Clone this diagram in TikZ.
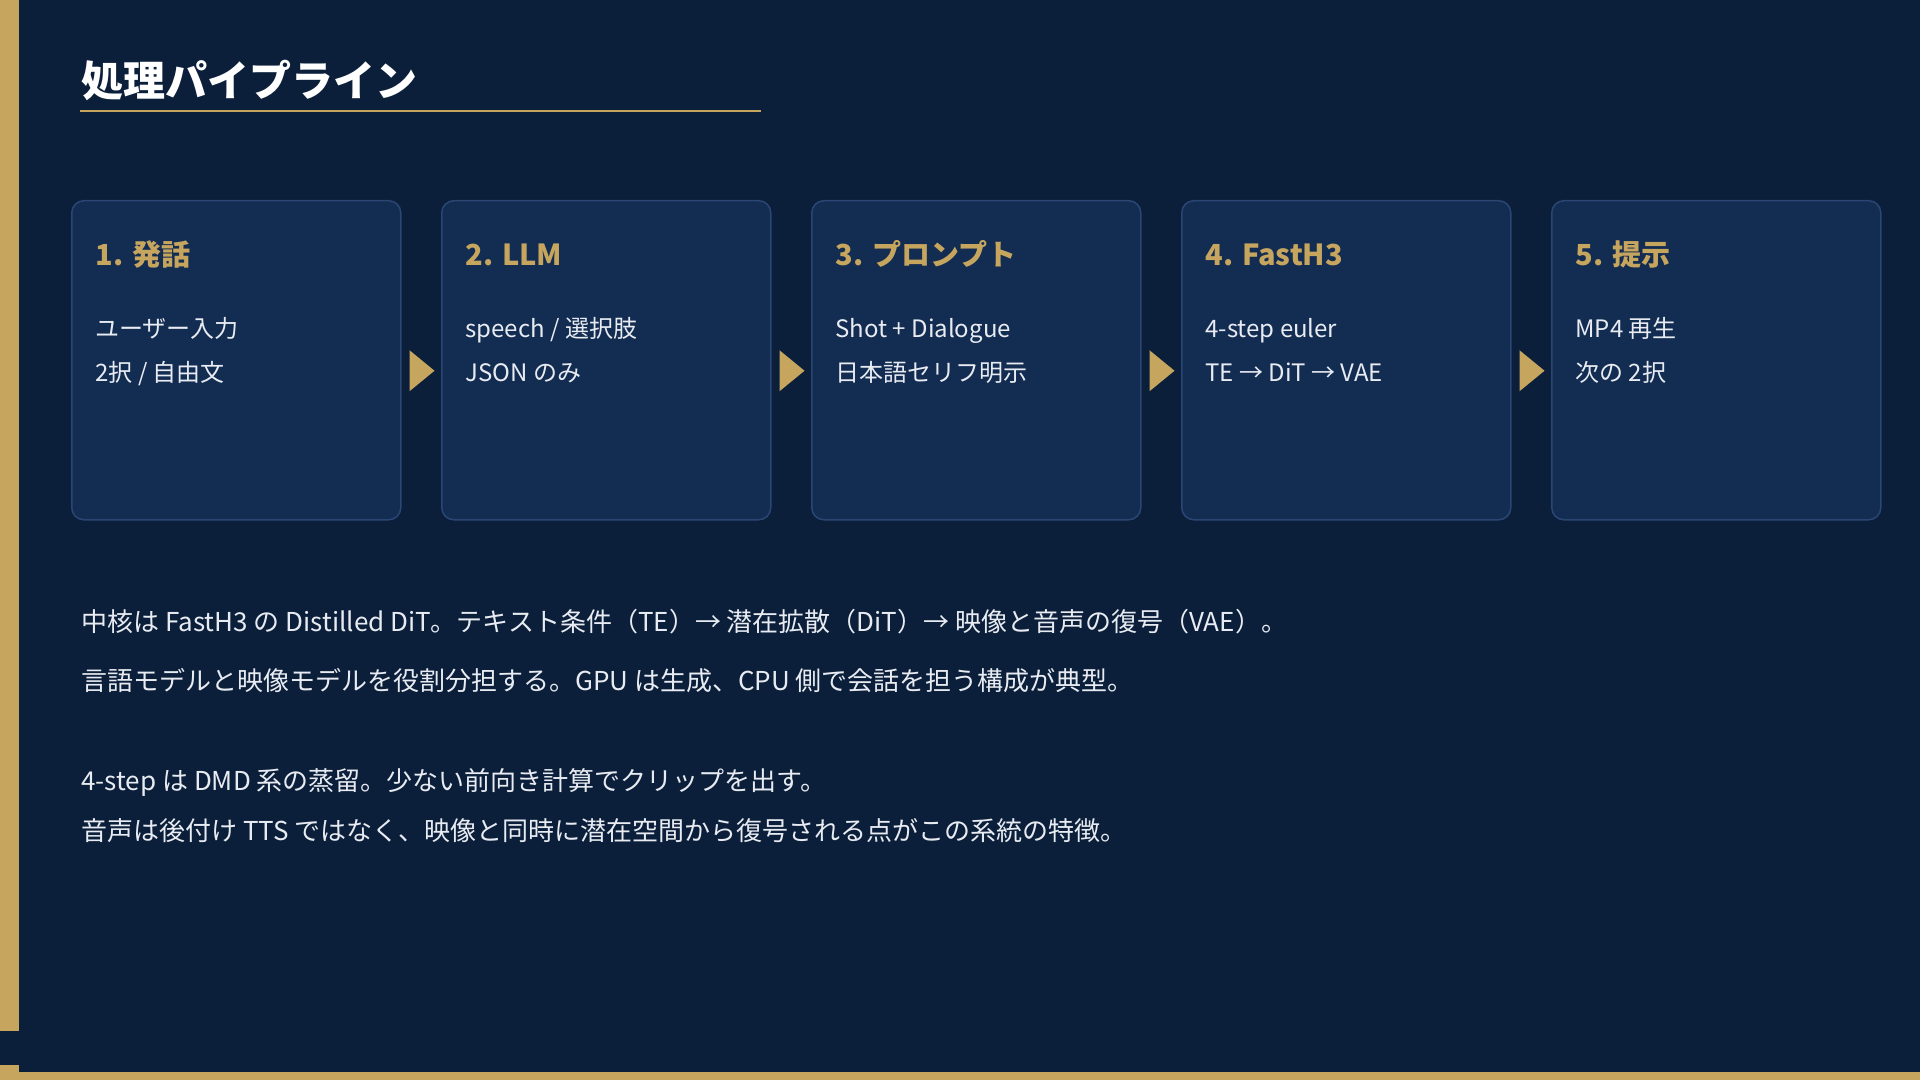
\documentclass[tikz,border=0pt]{standalone}
\usepackage{fontspec}
\setmainfont{Noto Sans CJK JP}
\usetikzlibrary{calc}

\definecolor{navy}{HTML}{0B1F3A}
\definecolor{panel}{HTML}{132C52}
\definecolor{panelline}{HTML}{2A4673}
\definecolor{gold}{HTML}{C6A55E}
\definecolor{bodytext}{HTML}{E8ECF2}

\tikzset{
	stepbox/.style={draw=panelline, line width=0.75pt, fill=panel, rounded corners=6pt,
		minimum width=164.5pt, minimum height=159.5pt, anchor=north west, inner sep=0pt},
	steptitle/.style={anchor=base west, inner sep=0pt, text=gold,
		font=\fontsize{14.5}{17}\selectfont\bfseries},
	stepline/.style={anchor=base west, inner sep=0pt, text=bodytext,
		font=\fontsize{12}{14}\selectfont},
	noteline/.style={anchor=base west, inner sep=0pt, text=bodytext,
		font=\fontsize{13}{16}\selectfont}
}

\begin{document}
\begin{tikzpicture}[x=0.5pt, y=-0.5pt]
\useasboundingbox (0,0) rectangle (1920,1080);
\fill[navy] (0,0) rectangle (1920,1080);

% gold frame
\fill[gold] (0,0) rectangle (19,1031);
\fill[gold] (0,1065) rectangle (19,1072);
\fill[gold] (0,1072) rectangle (1920,1080);

% heading
\node[anchor=base west, inner sep=0pt, text=white, font=\fontsize{21}{25}\selectfont\bfseries]
	at (81,97) (head){処理パイプライン};
\coordinate (ulA) at (80,111);
\coordinate (ulB) at (761,111);
\draw[gold, line width=1.3pt] (ulA) -- (ulB);

% pipeline boxes
\node[stepbox] at (71,200) (b1){};
\node[stepbox] at (441,200) (b2){};
\node[stepbox] at (811,200) (b3){};
\node[stepbox] at (1181,200) (b4){};
\node[stepbox] at (1551,200) (b5){};

\node[steptitle] at ([xshift=12pt, yshift=-33pt]b1.north west) (t1){1. 発話};
\node[stepline] at ([xshift=12pt, yshift=-68.5pt]b1.north west) (l1a){ユーザー入力};
\node[stepline] at ([xshift=12pt, yshift=-90.5pt]b1.north west) (l1b){2択 / 自由文};

\node[steptitle] at ([xshift=12pt, yshift=-33pt]b2.north west) (t2){2. LLM};
\node[stepline] at ([xshift=12pt, yshift=-68.5pt]b2.north west) (l2a){speech / 選択肢};
\node[stepline] at ([xshift=12pt, yshift=-90.5pt]b2.north west) (l2b){JSON のみ};

\node[steptitle] at ([xshift=12pt, yshift=-33pt]b3.north west) (t3){3. プロンプト};
\node[stepline] at ([xshift=12pt, yshift=-68.5pt]b3.north west) (l3a){Shot + Dialogue};
\node[stepline] at ([xshift=12pt, yshift=-90.5pt]b3.north west) (l3b){日本語セリフ明示};

\node[steptitle] at ([xshift=12pt, yshift=-33pt]b4.north west) (t4){4. FastH3};
\node[stepline] at ([xshift=12pt, yshift=-68.5pt]b4.north west) (l4a){4-step euler};
\node[stepline] at ([xshift=12pt, yshift=-90.5pt]b4.north west) (l4b){TE → DiT → VAE};

\node[steptitle] at ([xshift=12pt, yshift=-33pt]b5.north west) (t5){5. 提示};
\node[stepline] at ([xshift=12pt, yshift=-68.5pt]b5.north west) (l5a){MP4 再生};
\node[stepline] at ([xshift=12pt, yshift=-90.5pt]b5.north west) (l5b){次の 2択};

% arrow heads between boxes
\fill[gold] ($(b1.east)+(8,-10)$) -- ++(25,20.5) -- ++(-25,20.5) -- cycle;
\fill[gold] ($(b2.east)+(8,-10)$) -- ++(25,20.5) -- ++(-25,20.5) -- cycle;
\fill[gold] ($(b3.east)+(8,-10)$) -- ++(25,20.5) -- ++(-25,20.5) -- cycle;
\fill[gold] ($(b4.east)+(8,-10)$) -- ++(25,20.5) -- ++(-25,20.5) -- cycle;

% notes
\node[noteline] at (81,631) (n1){中核は FastH3 の Distilled DiT。テキスト条件（TE）→ 潜在拡散（DiT）→ 映像と音声の復号（VAE）。};
\node[noteline] at (81,690) (n2){言語モデルと映像モデルを役割分担する。GPU は生成、CPU 側で会話を担う構成が典型。};
\node[noteline] at (81,790) (n3){4-step は DMD 系の蒸留。少ない前向き計算でクリップを出す。};
\node[noteline] at (81,840) (n4){音声は後付け TTS ではなく、映像と同時に潜在空間から復号される点がこの系統の特徴。};

\end{tikzpicture}
\end{document}
